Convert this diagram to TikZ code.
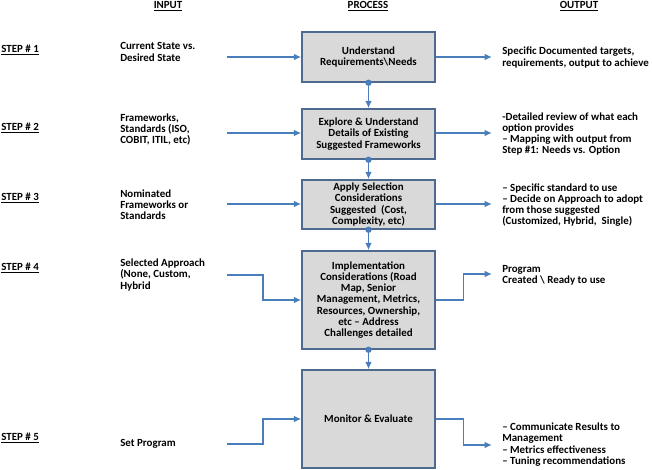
\documentclass[tikz,border=0pt]{standalone}
\usepackage{fontspec}
\setmainfont{Carlito}
\usetikzlibrary{positioning,arrows.meta,calc}

\definecolor{boxline}{HTML}{4F6A8F}
\definecolor{boxfill}{HTML}{D9D9D9}
\definecolor{linkc}{HTML}{4A7EBB}

\begin{document}
\begin{tikzpicture}[x=0.75pt,y=-0.75pt,
  font=\fontsize{8.2}{8.4}\selectfont\bfseries,
  hdr/.style={inner sep=0pt},
  steplbl/.style={anchor=west,inner sep=0pt},
  intxt/.style={anchor=west,align=left,inner sep=0pt},
  outtxt/.style={anchor=west,align=left,inner sep=0pt},
  procbox/.style={draw=boxline,fill=boxfill,line width=1.1pt,minimum width=99.75pt,align=center,inner sep=1pt},
  flow/.style={draw=linkc,line width=1.1pt,-{Latex[length=5.5pt,width=5pt]}},
  dot/.style={fill=linkc}]
\useasboundingbox (0,0) rectangle (652,470);

% column headers
\node[hdr] (hin) at (168,6) {\underline{INPUT}};
\node[hdr] (hproc) at (368,6) {\underline{PROCESS}};
\node[hdr] (hout) at (579,6) {\underline{OUTPUT}};

% steps
\node[steplbl] (st1) at (1,50) {\underline{STEP \# 1}};
\node[steplbl] (st2) at (1,128) {\underline{STEP \# 2}};
\node[steplbl] (st3) at (1,198) {\underline{STEP \# 3}};
\node[steplbl] (st4) at (1,268) {\underline{STEP \# 4}};
\node[steplbl] (st5) at (1,438) {\underline{STEP \# 5}};

% process boxes
\node[procbox,minimum height=37.5pt] (box1) at (368.5,57) {Understand\\Requirements\textbackslash Needs};
\node[procbox,minimum height=37.5pt] (box2) at (368.5,134) {Explore \& Understand\\Details of Existing\\Suggested Frameworks};
\node[procbox,minimum height=36.75pt] (box3) at (368.5,204.5) {Apply Selection\\Considerations\\Suggested~ (Cost,\\Complexity, etc)};
\node[procbox,minimum height=73.5pt] (box4) at (368.5,300) {Implementation\\Considerations (Road\\Map, Senior\\Management, Metrics,\\Resources, Ownership,\\etc -- Address\\Challenges detailed};
\node[procbox,minimum height=73.5pt] (box5) at (368.5,419) {Monitor \& Evaluate};

% inputs
\node[intxt] (in1) at (120,52) {Current State vs.\\Desired State};
\node[intxt] (in2) at (120,129.5) {Frameworks,\\Standards (ISO,\\COBIT, ITIL, etc)};
\node[intxt] (in3) at (120,205) {Nominated\\Frameworks or\\Standards};
\node[intxt] (in4) at (120,275) {Selected Approach\\(None, Custom,\\Hybrid};
\node[intxt] (in5) at (120,444) {Set Program};

% outputs
\node[outtxt] (out1) at (502,57.5) {Specific Documented targets,\\requirements, output to achieve};
\node[outtxt] (out2) at (502,134) {-Detailed review of what each\\option provides\\-- Mapping with output from\\Step \#1: Needs vs. Option};
\node[outtxt] (out3) at (502,205) {-- Specific standard to use\\-- Decide on Approach to adopt\\from those suggested\\(Customized, Hybrid,~ Single)};
\node[outtxt] (out4) at (502,275.5) {Program\\Created \textbackslash{} Ready to use};
\node[outtxt] (out5) at (502,444.5) {-- Communicate Results to\\Management\\-- Metrics effectiveness\\-- Tuning recommendations};

% arrow ends
\coordinate (i1) at (227,57);
\coordinate (i2) at (227,133);
\coordinate (i3) at (227,204);
\coordinate (i4) at (227,275);
\coordinate (i5) at (227,444);
\coordinate (o1) at (492,57);
\coordinate (o2) at (492,133);
\coordinate (o3) at (492,204);
\coordinate (o4) at (492,274);
\coordinate (o5) at (492,445);

% input arrows
\draw[flow] (i1) -- (box1.west);
\draw[flow] (i2) -- (i2 -| box2.west);
\draw[flow] (i3) -- (i3 -| box3.west);
\draw[flow] (i4) -- ++(36,0) |- (box4.west);
\draw[flow] (i5) -- ++(36,0) |- (box5.west);

% output arrows
\draw[flow] (box1.east) -- (o1);
\draw[flow] (o2 -| box2.east) -- (o2);
\draw[flow] (o3 -| box3.east) -- (o3);
\draw[flow] (box4.east) -- ++(28,0) |- (o4);
\draw[flow] (box5.east) -- ++(28,0) |- (o5);

% down links
\draw[flow] (box1.south) -- (box2.north);
\draw[flow] (box2.south) -- (box3.north);
\draw[flow] (box3.south) -- (box4.north);
\draw[flow] (box4.south) -- (box5.north);
\foreach \b in {box1,box2,box3,box4}
  \fill[dot] (\b.south) circle (2.4pt);
\end{tikzpicture}
\end{document}
